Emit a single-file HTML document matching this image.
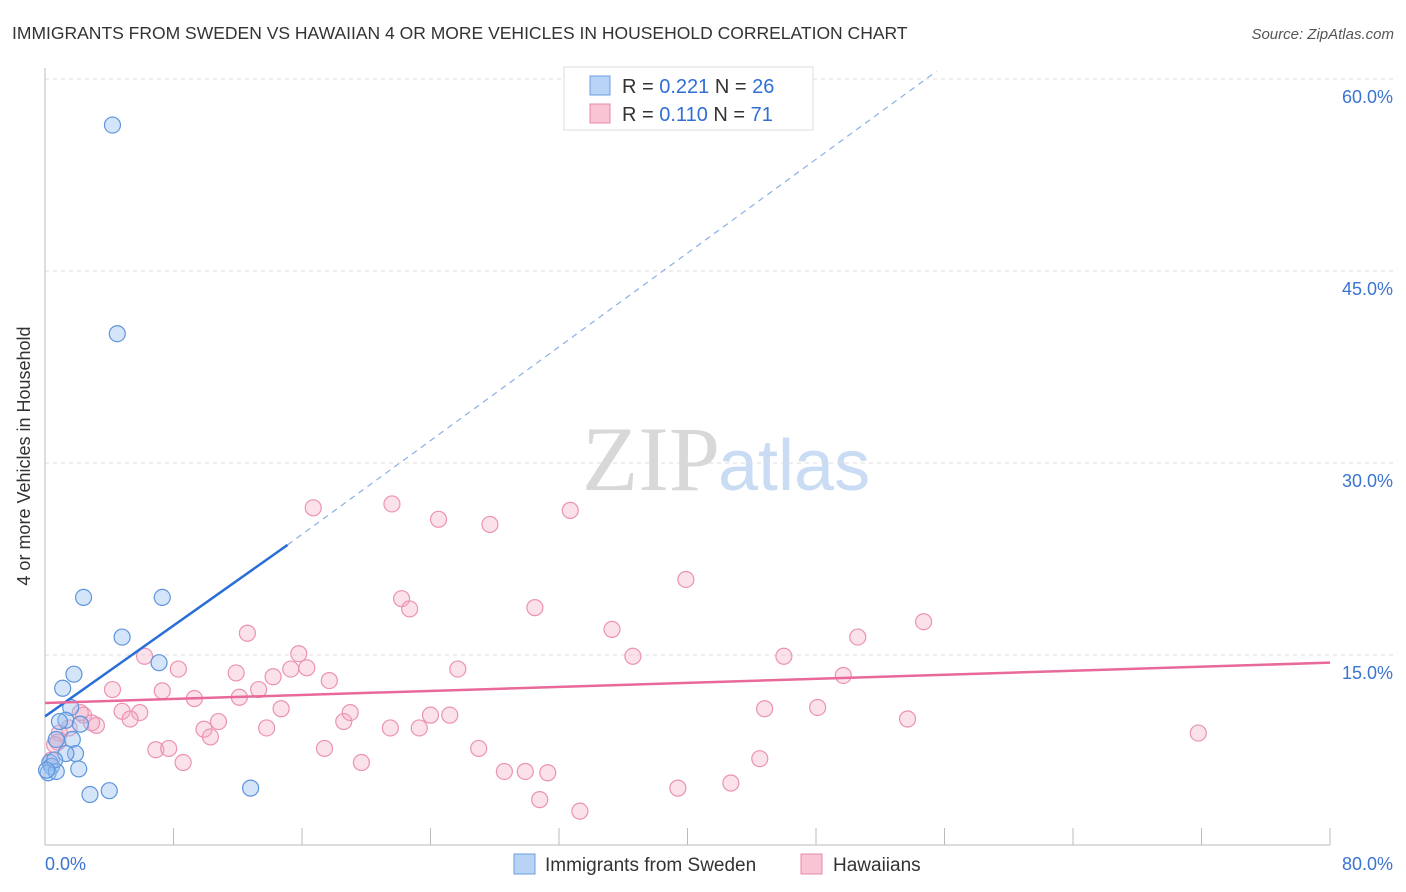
<!DOCTYPE html>
<html><head><meta charset="utf-8"><style>
body{margin:0;background:#fff;font-family:"Liberation Sans",sans-serif;}
svg{display:block}
</style></head><body>
<svg id="chart" width="1406" height="892">
<text x="12" y="39" font-size="17.5" fill="#333">IMMIGRANTS FROM SWEDEN VS HAWAIIAN 4 OR MORE VEHICLES IN HOUSEHOLD CORRELATION CHART</text>
<text x="1394" y="39" font-size="15" fill="#555" font-style="italic" text-anchor="end">Source: ZipAtlas.com</text>
<text x="30" y="456" font-size="18" fill="#333" text-anchor="middle" transform="rotate(-90 30 456)">4 or more Vehicles in Household</text>
<text x="720" y="490" font-size="92" fill="#d8d8d8" text-anchor="end" font-family="Liberation Serif,serif">ZIP</text>
<text x="718" y="490" font-size="72" fill="#c9dcf3">atlas</text>
<g id="grid"></g><g id="axes"></g><g id="pts"></g><g id="lines"></g>
<g>
<rect x="564" y="67" width="249" height="63" fill="#fff" stroke="#ddd"/>
<rect x="590" y="76" width="20" height="19" fill="#b8d3f5" stroke="#6a9fe0"/>
<text x="622" y="93" font-size="20" fill="#333">R = <tspan fill="#2f6fd6">0.221</tspan>   N = <tspan fill="#2f6fd6">26</tspan></text>
<rect x="590" y="104" width="20" height="19" fill="#f9c4d3" stroke="#e88aa8"/>
<text x="622" y="121" font-size="20" fill="#333">R = <tspan fill="#2f6fd6">0.110</tspan>   N =  <tspan fill="#2f6fd6">71</tspan></text>
</g>
<g>
<rect x="514" y="854" width="21" height="20" fill="#b8d3f5" stroke="#6a9fe0"/>
<text x="545" y="871" font-size="19" fill="#333">Immigrants from Sweden</text>
<rect x="801" y="854" width="21" height="20" fill="#f9c4d3" stroke="#e88aa8"/>
<text x="833" y="871" font-size="19" fill="#333">Hawaiians</text>
</g>
</svg>
<script>
const xTicks=[0,8,16,24,32,40,48,56,64,72,80];
const yTicks=[15,30,45,60];
const blueX=[4.2,4.5,2.4,7.3,4.8,7.1,1.8,1.1,1.6,1.3,0.9,2.2,0.7,1.7,1.9,1.3,0.3,0.4,0.2,0.7,2.1,2.8,4.0,12.8,0.6,0.1];
const blueY=[56.4,40.1,19.5,19.5,16.4,14.4,13.5,12.4,10.9,9.9,9.8,9.6,8.4,8.4,7.3,7.3,6.6,6.3,5.8,5.9,6.1,4.1,4.4,4.6,6.8,6.0];
const pinkX=[16.7,21.6,24.5,27.7,32.7,39.9,22.2,22.7,30.5,12.6,35.3,50.6,54.7,6.2,15.8,36.6,46.0,8.3,11.9,16.3,15.3,14.2,17.7,25.7,49.7,4.2,7.3,9.3,12.1,13.3,14.7,4.8,5.9,5.3,3.2,2.4,2.2,10.8,9.9,13.8,10.3,18.6,19.0,21.5,23.3,24.0,25.2,44.8,48.1,53.7,6.9,7.7,8.6,17.4,19.7,27.0,28.6,29.9,31.3,30.8,33.3,39.4,42.7,44.5,71.8,0.9,0.8,1.5,2.9,0.4,0.6];
const pinkY=[26.5,26.8,25.6,25.2,26.3,20.9,19.4,18.6,18.7,16.7,17.0,16.4,17.6,14.9,15.1,14.9,14.9,13.9,13.6,14.0,13.9,13.3,13.0,13.9,13.4,12.3,12.2,11.6,11.7,12.3,10.8,10.6,10.5,10.0,9.5,10.3,10.5,9.8,9.2,9.3,8.6,9.8,10.5,9.3,9.3,10.3,10.3,10.8,10.9,10.0,7.6,7.7,6.6,7.7,6.6,7.7,5.9,5.9,5.8,3.7,2.8,4.6,5.0,6.9,8.9,8.9,8.2,9.3,9.7,6.8,8.0];
const blueLine=[[0,10.2],[15.1,23.6]],blueDash=[[15.1,23.6],[55.5,60.6]];
const pinkLine=[[0,11.25],[80,14.4]];
const X=v=>45+v*16.0625, Y=v=>847-v*12.8;
const NS='http://www.w3.org/2000/svg';
function mk(t,p,a){const e=document.createElementNS(NS,t);for(const k in a)e.setAttribute(k,a[k]);p.appendChild(e);return e;}
const grid=document.getElementById('grid'),axes=document.getElementById('axes'),pts=document.getElementById('pts'),lines=document.getElementById('lines');
yTicks.forEach(v=>{const l=mk('line',grid,{x1:45,x2:1393,y1:Y(v),y2:Y(v),stroke:'#ddd','stroke-dasharray':'4,4'});


const t=mk('text',grid,{x:1393,y:Y(v)+24,'font-size':18,fill:'#3a74d0','text-anchor':'end'});t.textContent=v.toFixed(1)+'%';

});
const ax=mk('line',axes,{x1:45,x2:1330,y1:845,y2:845,stroke:'#bbb'});


const ay=mk('line',axes,{x1:45,x2:45,y1:68,y2:845,stroke:'#bbb'});


xTicks.forEach(v=>{const l=mk('line',axes,{x1:X(v),x2:X(v),y1:828,y2:845,stroke:'#bbb'});

});
[[0,'start',45],[80,'end',1393]].forEach(([v,a,x])=>{const t=mk('text',axes,{x:x,y:870,'font-size':18,fill:'#3a74d0','text-anchor':a});t.textContent=v.toFixed(1)+'%';

});
pinkX.forEach((x,i)=>{const c=mk('circle',pts,{cx:X(x),cy:Y(pinkY[i]),r:8,fill:'rgba(244,170,195,0.35)',stroke:'#eb93b0','stroke-width':1.2});

});
blueX.forEach((x,i)=>{const c=mk('circle',pts,{cx:X(x),cy:Y(blueY[i]),r:8,fill:'rgba(150,190,240,0.4)',stroke:'#5d95dd','stroke-width':1.2});

});
const bl=mk('line',lines,{x1:X(blueLine[0][0]),y1:Y(blueLine[0][1]),x2:X(blueLine[1][0]),y2:Y(blueLine[1][1]),stroke:'#2a6fd8','stroke-width':2.5});


const bd=mk('line',lines,{x1:X(blueDash[0][0]),y1:Y(blueDash[0][1]),x2:X(blueDash[1][0]),y2:Y(blueDash[1][1]),stroke:'#8ab0e6','stroke-width':1.2,'stroke-dasharray':'6,5'});


const pl=mk('line',lines,{x1:X(pinkLine[0][0]),y1:Y(pinkLine[0][1]),x2:X(pinkLine[1][0]),y2:Y(pinkLine[1][1]),stroke:'#e8699a','stroke-width':2.5});


</script>
</body></html>
